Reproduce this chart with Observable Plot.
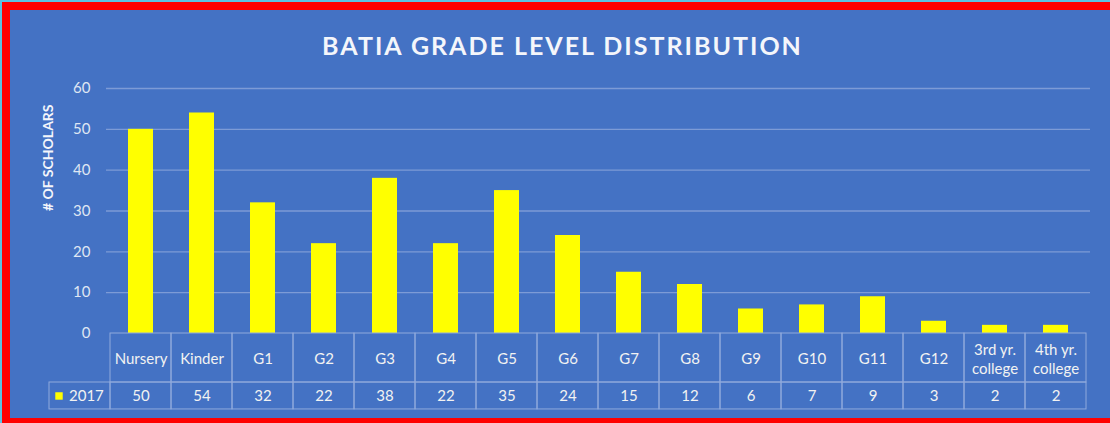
<!DOCTYPE html>
<html>
<head>
<meta charset="utf-8">
<script src="https://cdn.jsdelivr.net/npm/d3@7"></script>
<script src="https://cdn.jsdelivr.net/npm/@observablehq/plot@0.6"></script>
<style>
  html, body { margin: 0; padding: 0; width: 1110px; height: 423px; overflow: hidden; background: #5cc3e3; }
  #frame { position: absolute; left: 2px; top: 2px; width: 1108px; height: 421px; box-sizing: border-box;
           border-left: 8px solid #ff0000; border-top: 8px solid #ff0000; border-bottom: 5px solid #ff0000; background: #4472c4; }
  #chart { position: absolute; left: 0; top: 0; }
  svg { font-family: Lato, "Open Sans", sans-serif; }
</style>
</head>
<body>
<div id="frame"></div>
<div id="chart"></div>
<script>
const categories = ["Nursery", "Kinder", "G1", "G2", "G3", "G4", "G5", "G6", "G7", "G8", "G9", "G10", "G11", "G12", "3rd yr.\ncollege", "4th yr.\ncollege"];
const values2017 = [50, 54, 32, 22, 38, 22, 35, 24, 15, 12, 6, 7, 9, 3, 2, 2];
const seriesName = "2017";
const yTicks = [0, 10, 20, 30, 40, 50, 60];
const titleText = "BATIA GRADE LEVEL DISTRIBUTION";
const yTitle = "# OF SCHOLARS";

const data = categories.map((c, i) => ({ category: c, value: values2017[i] }));
const legendKey = "__legend__";
const xDomain = [legendKey, ...categories];

const textCol = "#f2f2f2";
const lineCol = "#8fa9dc";
const gridCol = "#7d9bd6";

const chart = Plot.plot({
  width: 1110,
  height: 423,
  marginLeft: 106,
  marginRight: 20,
  marginTop: 46,
  marginBottom: 14,
  style: { background: "transparent", color: textCol, fontFamily: "Lato, sans-serif" },
  x: { domain: xDomain, range: [44, 1090], padding: 0, axis: null },
  y: { domain: [0, 60], range: [333, 88], axis: null },
  marks: [
    Plot.gridY(yTicks.filter(d => d > 0), { stroke: gridCol, strokeOpacity: 1, strokeWidth: 1.3 }),
    Plot.axisY(yTicks, { tickSize: 0, tickPadding: 16, fontSize: 15, fill: "#dfe6f3", label: null }),
    Plot.barY(data, { x: "category", y: "value", fill: "#ffff00", insetLeft: 18, insetRight: 18 }),
    // data table: header row
    Plot.barY(data, { x: "category", y1: 0, y2: -12, fill: "none", stroke: lineCol, strokeWidth: 1 }),
    // data table: values row (with legend cell)
    Plot.barY([{ category: legendKey }, ...data], { x: "category", y1: -12, y2: -18.6, fill: "none", stroke: lineCol, strokeWidth: 1 }),
    Plot.text(data, { x: "category", y: -6, text: "category", fill: textCol, fontSize: 15, lineHeight: 1.3 }),
    Plot.text(data, { x: "category", y: -15.3, text: d => String(d.value), fill: textCol, fontSize: 15 }),
    Plot.dot([seriesName], { x: () => legendKey, y: -15.3, symbol: "square", r: 4.2, fill: "#ffff00", dx: -21 }),
    Plot.text([seriesName], { x: () => legendKey, y: -15.3, text: d => d, textAnchor: "start", dx: -11, fill: textCol, fontSize: 15 }),
    // titles
    Plot.text([titleText], { frameAnchor: "top", lineAnchor: "middle", text: d => d, dx: -36, fill: "#f4f6fb", fontSize: 25, fontWeight: "bold" }),
    Plot.text([yTitle], { frameAnchor: "left", y: 30, text: d => d, rotate: -90, dx: -58, fill: "#f4f6fb", fontSize: 14, fontWeight: "bold" })
  ]
});
d3.select(chart).selectAll("text")
  .filter(function () { return this.textContent === titleText; })
  .attr("letter-spacing", "2px");
document.getElementById("chart").appendChild(chart);
</script>
</body>
</html>
